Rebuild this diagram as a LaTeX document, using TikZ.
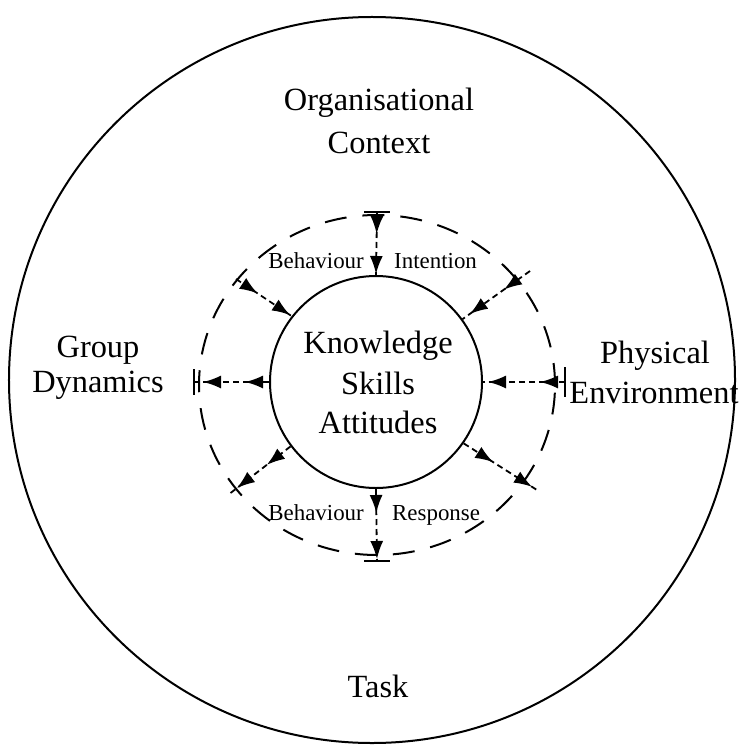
\documentclass[tikz,border=0pt]{standalone}
\usepackage{fontspec}
\setmainfont{Liberation Serif}
\usetikzlibrary{arrows.meta,decorations.markings}
\begin{document}
\begin{tikzpicture}[x=1bp,y=-1bp,
  lbl/.style={font=\fontsize{32.5}{36}\selectfont, inner sep=0pt, anchor=base},
  small/.style={font=\fontsize{23}{26}\selectfont, inner sep=0pt},
  ring/.style={line width=2bp},
  dring/.style={line width=2bp, dash pattern=on 22bp off 16bp},
  spokeline/.style={line width=1.8bp, dash pattern=on 6bp off 4bp},
  tbar/.style={line width=2bp},
  twoheads/.style 2 args={postaction={decorate}, decoration={markings,
     mark=at position #1 with {\arrow{Latex[length=18bp,width=13bp]}},
     mark=at position #2 with {\arrow{Latex[length=18bp,width=13bp]}}}}
]
\useasboundingbox (0,0) rectangle (740,756);
\fill[white] (0,0) rectangle (740,756);

% circles
\node[circle, draw, ring, minimum size=726bp, inner sep=0pt] (outer) at (372,380) {};
\draw[dring] (377,385) ellipse [x radius=178bp, y radius=170bp];
\node[circle, draw, ring, minimum size=212bp, inner sep=0pt] (ksa) at (376,382) {};

% labels
\node[lbl] (org1) at (379,110) {Organisational};
\node[lbl] (org2) at (379,153) {Context};
\node[lbl] (grp1) at (98,357) {Group};
\node[lbl] (grp2) at (98,392) {Dynamics};
\node[lbl] (phy1) at (655,363) {Physical};
\node[lbl] (phy2) at (654,403) {Environment};
\node[lbl] (task) at (378,697) {Task};
\node[lbl] (k1) at (378,353) {Knowledge};
\node[lbl] (k2) at (378,394) {Skills};
\node[lbl] (k3) at (378,433) {Attitudes};

\node[small, anchor=base east] (bi1) at (364,268) {Behaviour};
\node[small, anchor=base west] (bi2) at (394,268) {Intention};
\node[small, anchor=base east] (br1) at (364,520) {Behaviour};
\node[small, anchor=base west] (br2) at (392,520) {Response};

% spoke end points
\coordinate (topT) at (377,212);
\coordinate (botT) at (377,561);
\coordinate (leftT) at (194,382);
\coordinate (rightT) at (565,382);
\coordinate (ulS) at (236,279);
\coordinate (urS) at (530,271);
\coordinate (llE) at (228,495);
\coordinate (lrE) at (537,490);

% spokes
\draw[spokeline, twoheads={22bp}{62bp}] (topT) -- (ksa.north);
\draw[spokeline, twoheads={24bp}{70bp}] (ksa.south) -- (botT);
\draw[spokeline, twoheads={24bp}{66bp}] (ksa.west) -- (leftT);
\draw[spokeline, twoheads={25bp}{77bp}] (rightT) -- (ksa.east);
\draw[spokeline, twoheads={26bp}{65bp}] (ulS) -- (ksa.142);
\draw[spokeline, twoheads={32bp}{74bp}] (urS) -- (ksa.36);
\draw[spokeline, twoheads={30bp}{68bp}] (ksa.217) -- (llE);
\draw[spokeline, twoheads={35bp}{81bp}] (ksa.325) -- (lrE);

% T bars
\draw[tbar] (topT) ++(-13,0) -- ++(26,0);
\draw[tbar] (botT) ++(-13,0) -- ++(26,0);
\draw[tbar] (leftT) ++(0,-13) -- ++(0,26);
\draw[tbar] (rightT) ++(0,-15) -- ++(0,30);
\end{tikzpicture}
\end{document}
